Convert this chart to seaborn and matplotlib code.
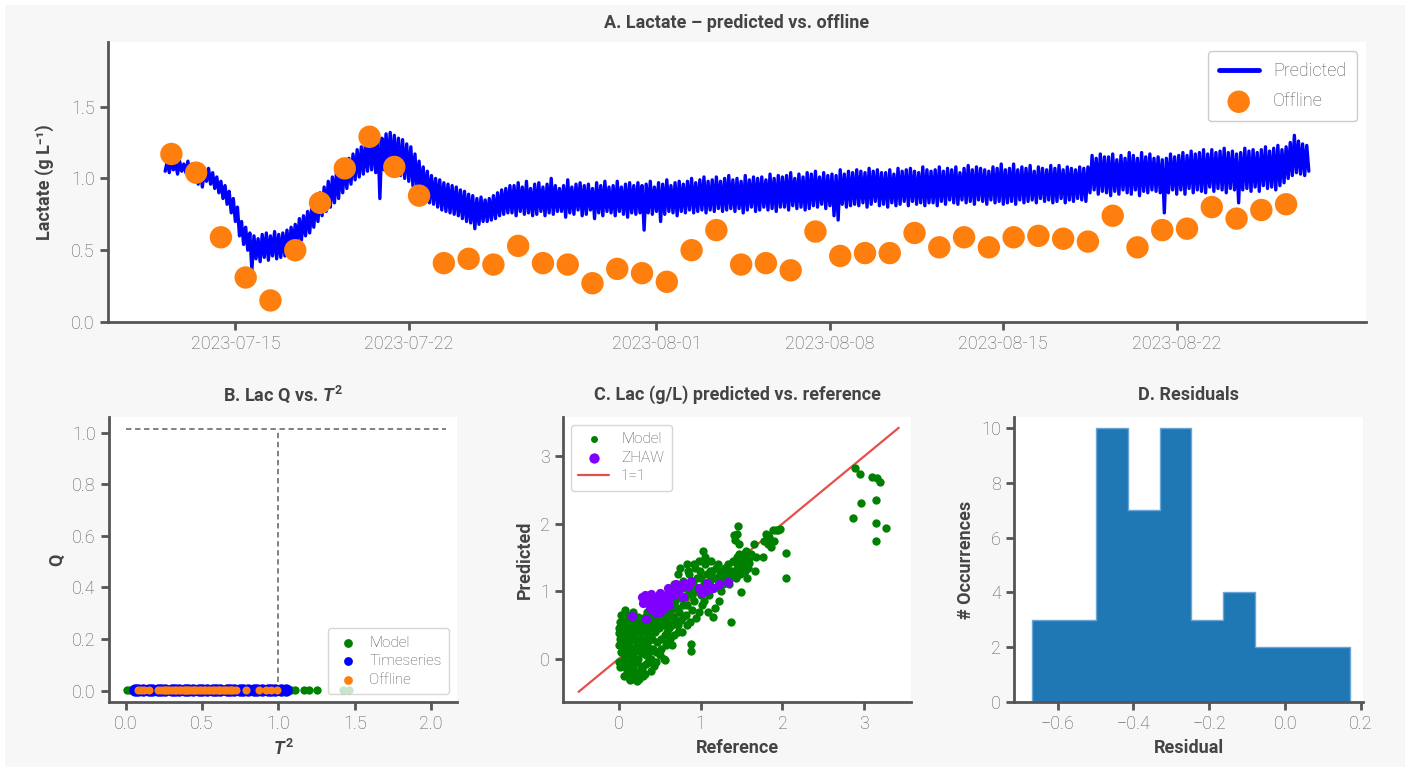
import numpy as np
import pandas as pd
import matplotlib
matplotlib.use("Agg")
import matplotlib.pyplot as plt
import matplotlib.dates as mdates
from matplotlib.patches import Rectangle
import seaborn as sns

# ---------------- data ----------------
# A. predicted lactate, one value every 2 h starting 2023-07-12 04:00 (one row per day)
pred_start = "2023-07-12 04:00"
predicted = [
    1.05, 1.12, 1.04, 1.13, 1.06, 1.11, 1.03, 1.12, 1.05, 1.10, 1.04, 1.12,  # 07-12
    1.02, 1.10, 1.00, 1.09, 0.96, 1.08, 0.94, 1.06, 0.98, 1.07, 0.96, 1.04,  # 07-13
    0.93, 1.01, 0.90, 0.98, 0.86, 0.95, 0.82, 0.91, 0.76, 0.86, 0.70, 0.80,  # 07-14
    0.60, 0.70, 0.54, 0.66, 0.50, 0.62, 0.36, 0.60, 0.44, 0.58, 0.42, 0.61,  # 07-15
    0.45, 0.62, 0.43, 0.60, 0.46, 0.63, 0.44, 0.61, 0.45, 0.62, 0.46, 0.64,  # 07-16
    0.48, 0.66, 0.52, 0.68, 0.54, 0.72, 0.57, 0.74, 0.60, 0.77, 0.62, 0.80,  # 07-17
    0.66, 0.86, 0.70, 0.90, 0.74, 0.94, 0.77, 0.98, 0.80, 1.01, 0.83, 1.05,  # 07-18
    0.86, 1.08, 0.90, 1.12, 0.93, 1.14, 0.96, 1.17, 0.99, 1.20, 1.01, 1.22,  # 07-19
    1.03, 1.25, 1.05, 1.27, 1.06, 1.29, 1.04, 1.30, 0.86, 1.28, 1.06, 1.31,  # 07-20
    1.07, 1.32, 1.05, 1.30, 1.04, 1.28, 1.02, 1.27, 1.00, 1.24, 0.98, 1.22,  # 07-21
    0.95, 1.17, 0.92, 1.12, 0.88, 1.08, 0.86, 1.05, 0.83, 1.02, 0.82, 1.00,  # 07-22
    0.80, 0.99, 0.78, 0.97, 0.77, 0.96, 0.76, 0.95, 0.75, 0.94, 0.74, 0.92,  # 07-23
    0.72, 0.91, 0.70, 0.89, 0.69, 0.88, 0.65, 0.86, 0.68, 0.87, 0.70, 0.85,  # 07-24
    0.70, 0.86, 0.71, 0.88, 0.72, 0.90, 0.74, 0.92, 0.75, 0.93, 0.76, 0.95,  # 07-25
    0.76, 0.95, 0.74, 0.97, 0.77, 0.94, 0.75, 0.98, 0.76, 0.93, 0.74, 0.96,  # 07-26
    0.75, 0.97, 0.77, 0.94, 0.74, 0.96, 0.76, 1.00, 0.75, 0.95, 0.77, 0.93,  # 07-27
    0.77, 0.95, 0.73, 0.99, 0.76, 0.94, 0.75, 0.96, 0.78, 0.97, 0.74, 0.95,  # 07-28
    0.75, 0.96, 0.78, 0.93, 0.72, 0.97, 0.76, 0.95, 0.74, 0.98, 0.77, 0.94,  # 07-29
    0.76, 0.95, 0.74, 0.98, 0.77, 0.94, 0.75, 0.96, 0.73, 0.97, 0.76, 0.95,  # 07-30
    0.75, 0.97, 0.76, 0.95, 0.64, 0.96, 0.76, 0.98, 0.75, 0.94, 0.77, 0.97,  # 07-31
    0.70, 0.96, 0.75, 0.99, 0.77, 0.95, 0.76, 0.97, 0.74, 0.98, 0.77, 0.96,  # 08-01
    0.76, 0.98, 0.78, 1.00, 0.76, 0.97, 0.77, 0.99, 0.78, 1.01, 0.76, 0.98,  # 08-02
    0.78, 0.99, 0.77, 1.01, 0.79, 0.98, 0.77, 1.00, 0.78, 1.02, 0.79, 0.99,  # 08-03
    0.77, 1.00, 0.79, 0.98, 0.76, 1.02, 0.78, 0.99, 0.80, 1.01, 0.77, 1.00,  # 08-04
    0.78, 1.01, 0.80, 0.99, 0.78, 1.03, 0.79, 1.00, 0.77, 1.02, 0.80, 1.01,  # 08-05
    0.80, 1.02, 0.78, 1.04, 0.81, 1.00, 0.79, 1.03, 0.80, 1.01, 0.78, 1.04,  # 08-06
    0.79, 1.03, 0.81, 1.05, 0.80, 1.01, 0.82, 1.04, 0.79, 1.02, 0.81, 1.03,  # 08-07
    0.74, 1.02, 0.71, 1.06, 0.82, 1.03, 0.80, 1.05, 0.81, 1.04, 0.82, 1.06,  # 08-08
    0.81, 1.05, 0.83, 1.04, 0.80, 1.07, 0.82, 1.05, 0.84, 1.06, 0.81, 1.04,  # 08-09
    0.82, 1.04, 0.80, 1.06, 0.83, 1.03, 0.81, 1.07, 0.82, 1.05, 0.84, 1.06,  # 08-10
    0.81, 1.07, 0.84, 1.05, 0.82, 1.04, 0.83, 1.08, 0.81, 1.06, 0.83, 1.05,  # 08-11
    0.83, 1.06, 0.81, 1.08, 0.84, 1.05, 0.82, 1.07, 0.85, 1.06, 0.83, 1.08,  # 08-12
    0.82, 1.04, 0.85, 1.07, 0.83, 1.09, 0.84, 1.06, 0.82, 1.08, 0.85, 1.07,  # 08-13
    0.84, 1.06, 0.82, 1.05, 0.85, 1.08, 0.83, 1.07, 0.84, 1.10, 0.82, 1.06,  # 08-14
    0.83, 1.07, 0.84, 1.10, 0.82, 1.06, 0.85, 1.08, 0.83, 1.07, 0.84, 1.09,  # 08-15
    0.85, 1.05, 0.83, 1.08, 0.86, 1.07, 0.84, 1.06, 0.85, 1.09, 0.83, 1.07,  # 08-16
    0.84, 1.09, 0.86, 1.06, 0.83, 1.08, 0.85, 1.07, 0.84, 1.06, 0.86, 1.08,  # 08-17
    0.85, 1.07, 0.84, 1.08, 0.90, 1.16, 0.92, 1.14, 0.89, 1.17, 0.91, 1.15,  # 08-18
    0.90, 1.15, 0.88, 1.17, 0.91, 1.13, 0.89, 1.16, 0.92, 1.14, 0.90, 1.18,  # 08-19
    0.89, 1.16, 0.92, 1.14, 0.88, 1.18, 0.91, 1.15, 0.90, 1.17, 0.92, 1.14,  # 08-20
    0.91, 1.15, 0.90, 1.13, 0.76, 1.14, 0.90, 1.17, 0.92, 1.15, 0.89, 1.16,  # 08-21
    0.92, 1.18, 0.89, 1.16, 0.93, 1.19, 0.90, 1.17, 0.92, 1.18, 0.91, 1.20,  # 08-22
    0.90, 1.17, 0.94, 1.20, 0.91, 1.18, 0.93, 1.19, 0.92, 1.21, 0.90, 1.18,  # 08-23
    0.93, 1.19, 0.92, 1.17, 0.83, 1.18, 0.92, 1.21, 0.93, 1.19, 0.91, 1.20,  # 08-24
    0.94, 1.18, 0.91, 1.20, 0.95, 1.22, 0.93, 1.19, 0.94, 1.21, 0.92, 1.23,  # 08-25
    0.95, 1.20, 0.97, 1.22, 1.00, 1.25, 1.02, 1.30, 1.04, 1.26, 1.03, 1.24,  # 08-26
    1.02, 1.23, 1.05,                                                        # 08-27
]

# A. offline samples, one per day starting 2023-07-12 10:00
offline_start = "2023-07-12 10:00"
offline = [1.17, 1.04, 0.59, 0.31, 0.15, 0.50, 0.83, 1.07, 1.29, 1.08,
           0.88, 0.41, 0.44, 0.40, 0.53, 0.41, 0.40, 0.27, 0.37, 0.34,
           0.28, 0.50, 0.64, 0.40, 0.41, 0.36, 0.63, 0.46, 0.48, 0.48,
           0.62, 0.52, 0.59, 0.52, 0.59, 0.60, 0.58, 0.56, 0.74, 0.52,
           0.64, 0.65, 0.80, 0.72, 0.78, 0.82]

# B. (T^2, Q) pairs
model_tq = [(0.01, 0.002), (0.03, 0.001), (0.05, 0.003), (0.15, 0.002), (0.30, 0.001),
            (0.45, 0.002), (0.60, 0.003), (0.75, 0.001), (0.90, 0.002), (1.00, 0.002),
            (1.08, 0.002), (1.11, 0.001), (1.17, 0.003), (1.20, 0.002), (1.25, 0.002),
            (1.42, 0.001), (1.46, 0.002)]
timeseries_tq = [(0.06, 0.002), (0.08, 0.001), (0.11, 0.002), (0.15, 0.003), (0.17, 0.002),
                 (0.21, 0.001), (0.23, 0.002), (0.26, 0.002), (0.30, 0.003), (0.32, 0.001),
                 (0.35, 0.002), (0.39, 0.002), (0.41, 0.001), (0.44, 0.003), (0.48, 0.002),
                 (0.50, 0.002), (0.53, 0.001), (0.57, 0.002), (0.59, 0.003), (0.62, 0.002),
                 (0.66, 0.001), (0.68, 0.002), (0.71, 0.002), (0.75, 0.003), (0.77, 0.001),
                 (0.80, 0.002), (0.84, 0.002), (0.86, 0.001), (0.89, 0.003), (0.93, 0.002),
                 (0.95, 0.002), (0.98, 0.001), (1.02, 0.002), (1.05, 0.002)]
offline_tq = [(0.08, 0.002), (0.10, 0.001), (0.12, 0.002), (0.15, 0.002), (0.21, 0.003),
              (0.23, 0.002), (0.25, 0.001), (0.26, 0.002), (0.27, 0.002), (0.28, 0.003),
              (0.30, 0.002), (0.32, 0.001), (0.33, 0.002), (0.35, 0.002), (0.36, 0.003),
              (0.38, 0.002), (0.39, 0.001), (0.40, 0.002), (0.41, 0.002), (0.42, 0.003),
              (0.44, 0.002), (0.45, 0.001), (0.46, 0.002), (0.48, 0.002), (0.49, 0.003),
              (0.51, 0.002), (0.52, 0.001), (0.54, 0.002), (0.55, 0.002), (0.57, 0.003),
              (0.58, 0.002), (0.60, 0.001), (0.61, 0.002), (0.62, 0.002), (0.64, 0.003),
              (0.65, 0.002), (0.66, 0.001), (0.68, 0.002), (0.69, 0.002), (0.70, 0.003),
              (0.72, 0.002), (0.79, 0.001), (0.87, 0.002), (0.92, 0.002), (0.95, 0.003),
              (0.99, 0.002)]
t2_limit = 1.0
q_limit = 1.013
t2_line_end = 2.1

# C. (reference, predicted) pairs
model_rp = [
    (0.00, 0.38), (0.02, 0.30), (0.00, 0.20), (0.03, 0.10), (0.01, -0.05), (0.05, -0.10), (0.04, 0.45),
    (0.06, 0.55), (0.08, 0.25), (0.07, 0.00), (0.10, -0.20), (0.10, 0.40), (0.09, 0.62), (0.05, 0.15),
    (0.12, -0.28), (0.14, -0.15), (0.15, 0.05), (0.13, 0.20), (0.16, 0.35), (0.18, 0.50), (0.15, 0.65),
    (0.17, 0.70), (0.19, -0.30), (0.20, -0.05), (0.12, 0.50), (0.18, 0.15), (0.20, 0.28), (0.16, -0.22),
    (0.11, 0.08), (0.22, -0.33), (0.24, -0.20), (0.23, 0.00), (0.25, 0.12), (0.26, 0.30), (0.22, 0.42),
    (0.28, 0.55), (0.24, 0.62), (0.27, -0.10), (0.29, 0.20), (0.21, 0.18), (0.30, 0.40), (0.26, 0.50),
    (0.30, -0.25), (0.32, -0.22), (0.33, 0.05), (0.35, 0.22), (0.36, 0.35), (0.38, 0.55), (0.31, 0.48),
    (0.34, 0.70), (0.40, 0.00), (0.37, 0.10), (0.39, 0.30), (0.40, 0.62), (0.33, -0.08), (0.42, 0.15),
    (0.44, 0.40), (0.45, 0.58), (0.47, 0.25), (0.48, 0.70), (0.43, 0.82), (0.50, 0.05), (0.46, -0.05),
    (0.49, 0.45), (0.41, 0.30), (0.52, 0.30), (0.55, 0.50), (0.57, 0.65), (0.58, 0.20), (0.53, 0.78),
    (0.60, 0.90), (0.55, 0.00), (0.59, 0.40), (0.56, 0.85), (0.62, 0.45), (0.64, 0.60), (0.66, 0.75),
    (0.68, 0.35), (0.63, 0.95), (0.70, 0.55), (0.67, 1.10), (0.65, 0.20), (0.69, 0.85), (0.72, 0.50),
    (0.74, 0.70), (0.76, 0.90), (0.78, 0.62), (0.73, 1.25), (0.80, 1.05), (0.75, 1.35), (0.77, 0.40),
    (0.79, 1.15), (0.82, 0.65), (0.84, 0.80), (0.86, 1.00), (0.88, 0.12), (0.88, 0.22), (0.85, 1.30),
    (0.90, 0.72), (0.83, 1.40), (0.87, 0.55), (0.92, 0.85), (0.94, 1.05), (0.96, 1.20), (0.98, 0.70),
    (0.93, 1.35), (1.00, 0.95), (0.95, 0.60), (0.99, 1.30), (1.02, 0.80), (1.04, 1.10), (1.06, 1.50),
    (1.08, 1.25), (1.03, 1.60), (1.10, 0.95), (1.05, 1.40), (1.09, 0.70), (1.07, 1.00), (1.12, 1.15),
    (1.14, 1.30), (1.16, 1.05), (1.18, 0.75), (1.15, 0.62), (1.20, 1.20), (1.13, 1.45), (1.19, 1.35),
    (1.22, 1.10), (1.24, 1.25), (1.26, 1.30), (1.28, 1.20), (1.25, 1.00), (1.30, 1.35), (1.23, 0.85),
    (1.32, 1.25), (1.34, 1.40), (1.36, 1.20), (1.37, 0.55), (1.38, 1.30), (1.35, 1.10), (1.40, 1.45),
    (1.42, 1.30), (1.44, 1.50), (1.46, 1.35), (1.45, 1.85), (1.46, 1.97), (1.48, 1.25), (1.47, 1.70),
    (1.50, 1.40), (1.43, 1.20), (1.41, 1.83), (1.42, 1.76), (1.52, 1.45), (1.54, 1.30), (1.56, 1.55),
    (1.58, 1.35), (1.55, 1.60), (1.60, 1.50), (1.49, 0.99), (1.57, 1.20), (1.62, 1.55), (1.65, 1.70),
    (1.68, 1.50), (1.66, 1.30), (1.76, 1.50), (1.78, 1.75), (1.80, 1.85), (1.82, 1.70), (1.84, 1.80),
    (1.86, 1.65), (1.88, 1.90), (1.90, 1.75), (1.92, 1.90), (1.95, 1.90), (1.97, 1.92), (2.04, 1.56),
    (2.04, 1.19), (2.89, 2.82), (2.95, 2.74), (3.09, 2.69), (3.15, 2.67), (3.19, 2.62), (2.96, 2.31),
    (3.14, 2.35), (2.86, 2.09), (3.14, 2.01), (3.26, 1.94), (3.14, 1.75),
    (0.02, 0.55), (0.03, 0.65), (0.01, 0.45), (0.04, 0.28), (0.06, 0.35), (0.07, 0.48), (0.08, 0.10),
    (0.09, -0.12), (0.02, -0.12), (0.06, -0.25), (0.11, 0.28), (0.13, 0.42), (0.14, 0.58), (0.12, -0.05),
    (0.17, 0.05), (0.18, -0.12), (0.19, 0.38), (0.21, 0.55), (0.23, 0.30), (0.25, -0.30), (0.27, 0.40),
    (0.28, 0.08), (0.29, -0.15), (0.31, 0.15), (0.32, 0.62), (0.34, 0.30), (0.36, -0.05), (0.37, 0.45),
    (0.39, 0.15), (0.41, 0.50), (0.43, -0.10), (0.44, 0.65), (0.46, 0.10), (0.47, 0.52), (0.51, 0.60),
    (0.52, 0.15), (0.54, 0.68), (0.56, 0.35), (0.58, 0.55), (0.61, 0.70), (0.63, 0.30), (0.65, 0.50),
    (0.67, 0.62), (0.71, 0.75), (0.73, 0.40), (0.76, 0.58), (0.78, 0.80), (0.81, 0.92), (0.83, 0.50),
    (0.89, 0.95), (0.91, 1.10), (0.97, 1.00), (1.01, 1.20), (1.04, 0.85), (1.11, 1.30), (1.17, 1.20),
    (1.21, 1.40), (1.27, 1.10), (1.31, 1.20), (1.39, 1.25), (1.44, 1.40), (1.51, 1.30), (1.53, 1.55),
    (1.59, 1.42), (1.47, 1.55), (0.98, 1.45), (0.92, 1.40), (0.86, 1.25), (0.70, 1.02), (0.60, 0.25),
    (0.57, -0.02), (0.40, -0.18), (0.14, -0.32), (0.08, 0.72),
]
zhaw_rp = [
    (0.16, 0.63), (0.33, 0.59), (0.28, 0.92), (0.32, 0.95), (0.36, 0.93), (0.40, 0.96), (0.30, 0.82),
    (0.35, 0.85), (0.38, 0.75), (0.42, 0.88), (0.45, 0.82), (0.48, 0.90), (0.50, 0.98), (0.52, 0.78),
    (0.55, 0.85), (0.58, 0.95), (0.60, 1.05), (0.62, 0.90), (0.65, 1.00), (0.68, 0.95), (0.70, 1.10),
    (0.72, 1.00), (0.75, 1.05), (0.78, 0.92), (0.80, 1.12), (0.85, 1.08), (0.88, 1.15), (0.50, 0.70),
    (0.45, 0.68), (0.42, 0.72), (0.62, 0.80), (0.55, 0.75), (0.98, 1.05), (1.02, 0.98), (1.05, 1.00),
    (1.08, 1.12), (1.12, 1.04), (1.15, 1.05), (1.22, 1.10), (1.33, 1.14),
]
identity_ends = [-0.49, 3.42]

# D. residuals (offline - predicted)
residuals = [-0.667, -0.62, -0.60, -0.57, -0.54, -0.51,
             -0.49, -0.48, -0.47, -0.46, -0.45, -0.44, -0.44, -0.43, -0.43, -0.42,
             -0.41, -0.40, -0.38, -0.37, -0.36, -0.35, -0.34,
             -0.33, -0.32, -0.31, -0.30, -0.30, -0.29, -0.28, -0.27, -0.26, -0.25,
             -0.23, -0.20, -0.18,
             -0.15, -0.12, -0.10, -0.09,
             -0.06, -0.02, 0.03, 0.07, 0.12, 0.172]

# ---------------- style ----------------
sns.set_theme(style="ticks")
DARK = "#555555"
plt.rcParams.update({
    "font.family": ["Roboto", "DejaVu Sans"],
    "font.weight": "light",
    "axes.edgecolor": DARK,
    "axes.linewidth": 2.0,
    "axes.facecolor": "white",
    "xtick.color": DARK, "ytick.color": DARK,
    "xtick.labelcolor": "#5a5a5a", "ytick.labelcolor": "#5a5a5a",
    "xtick.major.width": 2.0, "ytick.major.width": 2.0,
    "xtick.major.size": 6, "ytick.major.size": 6,
    "xtick.labelsize": 13, "ytick.labelsize": 13,
    "axes.labelsize": 13, "axes.labelweight": "bold", "axes.labelcolor": "#444444",
    "axes.titlesize": 13, "axes.titleweight": "bold", "axes.titlecolor": "#444444",
    "mathtext.fontset": "custom",
    "mathtext.it": "Roboto:italic:bold",
    "mathtext.rm": "Roboto:bold",
    "mathtext.bf": "Roboto:bold",
    "legend.fontsize": 13,
    "legend.labelcolor": "#555555",
    "legend.edgecolor": "#cccccc",
})

W, H = 1405, 767
fig = plt.figure(figsize=(W / 100, H / 100), dpi=100, facecolor="white")
fig.patches.append(Rectangle((5 / W, 0), 1, 1 - 5 / H, transform=fig.transFigure,
                             facecolor="#f7f7f7", edgecolor="none", zorder=-10))

axA = fig.add_axes([108 / W, 1 - 322 / H, (1366 - 108) / W, (322 - 42) / H])
axB = fig.add_axes([109 / W, 1 - 702 / H, (457 - 109) / W, (702 - 417) / H])
axC = fig.add_axes([563 / W, 1 - 702 / H, (911 - 563) / W, (702 - 417) / H])
axD = fig.add_axes([1014 / W, 1 - 702 / H, (1363 - 1014) / W, (702 - 417) / H])

# ---------------- A ----------------
pred_df = pd.DataFrame({"time": pd.date_range(pred_start, periods=len(predicted), freq="2h"),
                        "value": predicted})
off_df = pd.DataFrame({"time": pd.date_range(offline_start, periods=len(offline), freq="D"),
                       "value": offline})
sns.lineplot(data=pred_df, x="time", y="value", ax=axA, color="blue", linewidth=2.4,
             label="Predicted", zorder=2)
sns.scatterplot(data=off_df, x="time", y="value", ax=axA, color="#ff7f0e", s=260,
                edgecolor="none", label="Offline", zorder=3)
axA.set_ylim(0, 1.95)
axA.set_yticks([0, 0.5, 1.0, 1.5])
axA.xaxis.set_major_locator(mdates.DayLocator(bymonthday=[1, 8, 15, 22]))
axA.xaxis.set_major_formatter(mdates.DateFormatter("%Y-%m-%d"))
axA.set_xlabel("")
axA.set_ylabel("Lactate (g L⁻¹)", family=["Roboto", "DejaVu Sans"], labelpad=12)
axA.set_title("A. Lactate – predicted vs. offline", pad=10)
legA = axA.legend(loc="upper right", fontsize=13, borderpad=0.6, handlelength=2.2,
                  labelspacing=0.7, framealpha=1)
legA.legend_handles[0].set_linewidth(3.5)
sns.despine(ax=axA)

# ---------------- B ----------------
mdf = pd.DataFrame(model_tq, columns=["T2", "Q"])
tdf = pd.DataFrame(timeseries_tq, columns=["T2", "Q"])
odf = pd.DataFrame(offline_tq, columns=["T2", "Q"])
axB.plot([0, t2_line_end], [q_limit, q_limit], ls=(0, (3, 2)), color="#777777", lw=1.3, zorder=1)
axB.plot([t2_limit, t2_limit], [0, q_limit], ls=(0, (3, 2)), color="#777777", lw=1.3, zorder=1)
sns.scatterplot(data=mdf, x="T2", y="Q", ax=axB, color="green", s=36, linewidth=0,
                label="Model", zorder=2)
sns.scatterplot(data=tdf, x="T2", y="Q", ax=axB, color="blue", s=80, linewidth=0,
                label="Timeseries", zorder=3)
sns.scatterplot(data=odf, x="T2", y="Q", ax=axB, color="#ff7f0e", s=34, linewidth=0,
                label="Offline", zorder=4)
axB.set_xlim(-0.11, 2.17)
axB.set_ylim(-0.044, 1.061)
axB.set_xticks([0, 0.5, 1.0, 1.5, 2.0])
axB.set_yticks([0, 0.2, 0.4, 0.6, 0.8, 1.0])
axB.set_xlabel(r"$T^2$")
axB.set_ylabel("Q")
axB.set_title(r"B. Lac Q vs. $T^2$", pad=12)
legB = axB.legend(loc="lower right", fontsize=11, handletextpad=0.6, borderpad=0.5,
                  labelspacing=0.3, handlelength=1.6)
for hnd in legB.legend_handles:
    hnd.set_sizes([40])
sns.despine(ax=axB)

# ---------------- C ----------------
cm = pd.DataFrame(model_rp, columns=["Reference", "Predicted"])
cz = pd.DataFrame(zhaw_rp, columns=["Reference", "Predicted"])
sns.lineplot(x=identity_ends, y=identity_ends, ax=axC, color="#e5504a", lw=1.6,
             label="1=1", zorder=1)
sns.scatterplot(data=cm, x="Reference", y="Predicted", ax=axC, color="green", s=36,
                linewidth=0, label="Model", zorder=2)
sns.scatterplot(data=cz, x="Reference", y="Predicted", ax=axC, color="#8000ff", s=44,
                linewidth=0, label="ZHAW", zorder=3)
axC.set_xlim(-0.68, 3.57)
axC.set_ylim(-0.64, 3.58)
axC.set_xticks([0, 1, 2, 3])
axC.set_yticks([0, 1, 2, 3])
axC.set_xlabel("Reference")
axC.set_ylabel("Predicted")
axC.set_title("C. Lac (g/L) predicted vs. reference", pad=12)
h, l = axC.get_legend_handles_labels()
order = [l.index("Model"), l.index("ZHAW"), l.index("1=1")]
legC = axC.legend([h[i] for i in order], [l[i] for i in order], loc="upper left", fontsize=11,
                  labelspacing=0.3, handlelength=2.0, borderpad=0.5)
legC.legend_handles[0].set_sizes([25])
legC.legend_handles[1].set_sizes([55])
sns.despine(ax=axC)

# ---------------- D ----------------
sns.histplot(x=residuals, bins=10, ax=axD, element="step", fill=True, color="#1f77b4",
             alpha=1, edgecolor="#6aa6d8", linewidth=1.0)
axD.set_xlim(-0.715, 0.205)
axD.set_ylim(0, 10.4)
axD.set_xticks([-0.6, -0.4, -0.2, 0.0, 0.2])
axD.set_yticks([0, 2, 4, 6, 8, 10])
axD.set_xlabel("Residual")
axD.set_ylabel("# Occurrences")
axD.set_title("D. Residuals", pad=12)
sns.despine(ax=axD)

fig.savefig("out.png", dpi=100, facecolor="white")
